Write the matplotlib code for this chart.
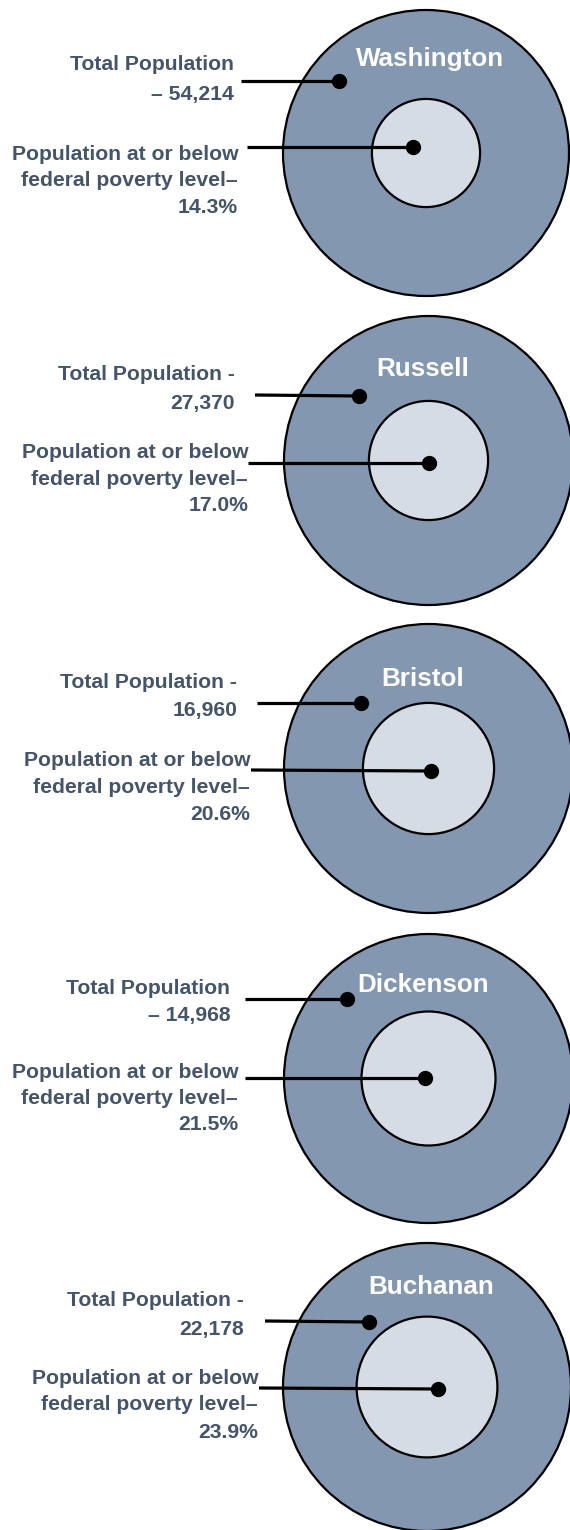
import matplotlib
matplotlib.use("Agg")
import matplotlib.pyplot as plt
from matplotlib.patches import Circle
import numpy as np

plt.rcParams['font.family'] = ['Liberation Sans', 'DejaVu Sans']

counties = ["Washington", "Russell", "Bristol", "Dickenson", "Buchanan"]
total_pop = [54214, 27370, 16960, 14968, 22178]
poverty_pct = [14.3, 17.0, 20.6, 21.5, 23.9]
dash_first = [True, False, False, True, False]  # "– 54,214" vs "Total Population -"

# layout in pixels (y downwards)
centers = [(426, 153), (428.5, 460.5), (428.5, 768.5), (428.5, 1078.5), (427, 1387)]
radii = [143, 144.5, 144.5, 144.5, 144]
title_xy = [(430, 57), (423, 367), (423, 677), (423, 983), (431, 1285)]
tot_text = [(234, 62, 92), (235, 372, 401), (237, 680, 708), (230, 986, 1013), (244, 1298, 1327)]
tot_line = [((241, 81), (339, 81)), ((255, 395), (359, 396)), ((257, 703), (361, 703)),
            ((245, 999), (347, 999)), ((265, 1321), (369, 1322))]
pov_text = [(238, 152, 178, 205), (248, 450, 477, 503), (250, 758, 785, 812),
            (238, 1070, 1097, 1123), (258, 1377, 1403, 1430)]
pov_line = [((247, 147), (413, 147)), ((248, 463), (429, 463)), ((251, 770), (431, 771)),
            ((245, 1078), (425, 1078)), ((259, 1388), (438, 1389))]

txt_col = "#44546A"
outer_col = "#8497B0"
inner_col = "#D6DCE5"

fig = plt.figure(figsize=(5.7, 15.3), dpi=100)
ax = fig.add_axes([0, 0, 1, 1])
ax.set_xlim(0, 570)
ax.set_ylim(1530, 0)
ax.set_aspect('equal')
ax.axis('off')

fs_lab = 15.2
fs_title = 18.7

for i, name in enumerate(counties):
    cx, cy = centers[i]
    R = radii[i]
    ax.add_patch(Circle((cx, cy), R, facecolor=outer_col, edgecolor='black', lw=1.6, zorder=1))
    r_in = R * np.sqrt(poverty_pct[i] / 100)
    ax.add_patch(Circle((cx, cy), r_in, facecolor=inner_col, edgecolor='black', lw=1.6, zorder=2))

    tx, ty = title_xy[i]
    ax.text(tx, ty + 9.3, name, color='white', fontsize=fs_title, fontweight='bold',
            ha='center', va='baseline', zorder=5)

    # total population label
    pop = f"{total_pop[i]:,}"
    if dash_first[i]:
        lines = ["Total Population", "\u2013 " + pop]
    else:
        lines = ["Total Population -", pop]
    rx, y1, y2 = tot_text[i]
    for s, y in zip(lines, [y1, y2]):
        ax.text(rx, y + 7.5, s, color=txt_col, fontsize=fs_lab, fontweight='bold',
                ha='right', va='baseline')
    (x0, y0), (x1, y1_) = tot_line[i]
    ax.plot([x0, x1], [y0, y1_], color='black', lw=2.3, zorder=3, solid_capstyle='butt')
    ax.plot(x1, y1_, 'o', color='black', ms=10, zorder=4)

    # poverty label
    rx, a, b, c = pov_text[i]
    plines = ["Population at or below", "federal poverty level\u2013", f"{poverty_pct[i]:.1f}%"]
    for s, y in zip(plines, [a, b, c]):
        ax.text(rx, y + 7.5, s, color=txt_col, fontsize=fs_lab, fontweight='bold',
                ha='right', va='baseline')
    (x0, y0), (x1, y1_) = pov_line[i]
    ax.plot([x0, x1], [y0, y1_], color='black', lw=2.3, zorder=3, solid_capstyle='butt')
    ax.plot(x1, y1_, 'o', color='black', ms=10, zorder=4)

fig.savefig("out.png", dpi=100)
